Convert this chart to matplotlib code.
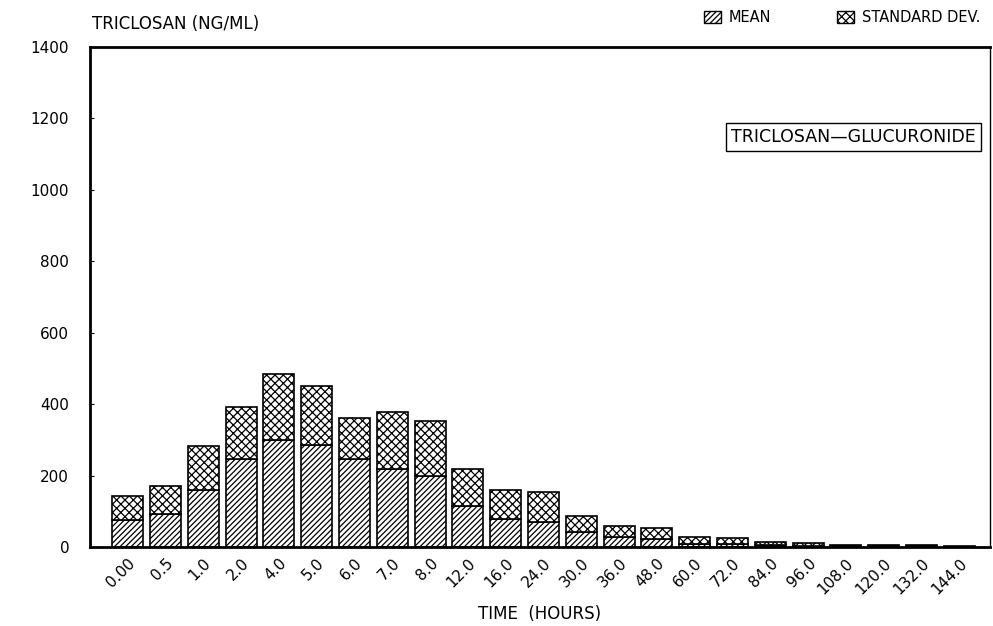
import matplotlib.pyplot as plt
from matplotlib.patches import Patch

plt.rcParams["hatch.linewidth"] = 0.9

times = ["0.00", "0.5", "1.0", "2.0", "4.0", "5.0", "6.0", "7.0", "8.0", "12.0",
         "16.0", "24.0", "30.0", "36.0", "48.0", "60.0", "72.0", "84.0", "96.0",
         "108.0", "120.0", "132.0", "144.0"]
mean_vals = [75, 93, 159, 247, 299, 287, 247, 219, 198, 114,
             79, 70, 43, 28, 24, 10, 10, 5, 4, 3, 2, 2, 1]
total_vals = [144, 172, 284, 391, 485, 452, 362, 379, 352, 218,
              160, 154, 88, 59, 53, 28, 25, 14, 11, 7, 6, 5, 2]
sd_vals = [t - m for t, m in zip(total_vals, mean_vals)]

fig = plt.figure(figsize=(9.93, 6.26), dpi=100)
ax = fig.add_axes([0.0906, 0.126, 0.906, 0.799])

x = range(len(times))
ax.bar(x, mean_vals, width=0.82, color="white", edgecolor="black",
       linewidth=1.2, hatch="//////", label="MEAN")
ax.bar(x, sd_vals, width=0.82, bottom=mean_vals, color="white",
       edgecolor="black", linewidth=1.2, hatch="xxxx", label="STANDARD DEV.")

ax.set_xlim(-1.0, 22.8)
ax.set_ylim(0, 1400)
ax.set_yticks(range(0, 1401, 200))
ax.set_xticks(list(x))
ax.set_xticklabels(times, rotation=45, ha="right", rotation_mode="anchor",
                   fontsize=11)
ax.tick_params(axis="y", labelsize=11, length=3, direction="in", pad=15)
ax.tick_params(axis="x", length=0, pad=6)
for side in ["left", "bottom", "top"]:
    ax.spines[side].set_linewidth(2)
ax.spines["right"].set_linewidth(1)

ax.set_xlabel("TIME  (HOURS)", fontsize=12, labelpad=6)
fig.text(0.093, 0.948, "TRICLOSAN (NG/ML)", fontsize=12, ha="left", va="bottom")

ax.text(0.985, 0.82, "TRICLOSAN\u2014GLUCURONIDE", transform=ax.transAxes,
        ha="right", va="center", fontsize=12.5,
        bbox=dict(boxstyle="square,pad=0.3", facecolor="white",
                  edgecolor="black", linewidth=1))

handles = [Patch(facecolor="white", edgecolor="black", hatch="//////", label="MEAN"),
           Patch(facecolor="white", edgecolor="black", hatch="xxxx", label="STANDARD DEV.")]
fig.legend(handles=handles, loc="upper right", bbox_to_anchor=(1.0, 1.005),
           ncol=2, frameon=False, fontsize=10.5, handlelength=1.2,
           handleheight=0.9, columnspacing=4.5, handletextpad=0.5)

fig.savefig("out.png", dpi=100)
